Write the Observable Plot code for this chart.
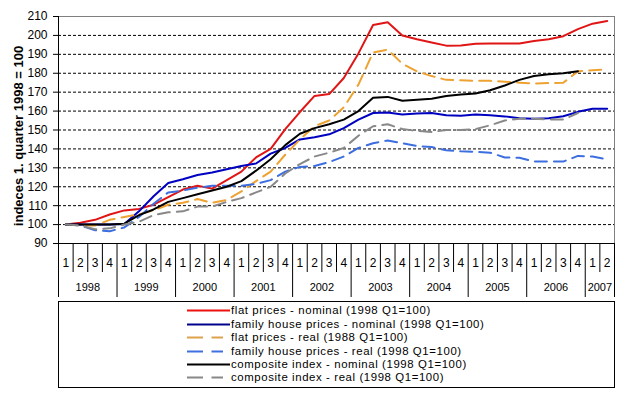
<!DOCTYPE html>
<html><head><meta charset="utf-8">
<script src="https://cdn.jsdelivr.net/npm/d3@7"></script>
<script src="https://cdn.jsdelivr.net/npm/@observablehq/plot@0.6"></script>
<style>
body{margin:0;background:#fff;}
#wrap{position:relative;width:620px;height:393px;font-family:"Liberation Sans",Arial,sans-serif;background:#fff;}
#legend{position:absolute;left:58px;top:301px;width:557px;height:87px;border:1px solid #000;box-sizing:border-box;padding:2.3px 0 0 128px;}
.row{height:13.4px;display:flex;align-items:center;font-size:11.4px;letter-spacing:0.6px;line-height:13px;white-space:nowrap;color:#000;}
.row svg{flex:none;margin-right:1px;}
</style></head><body><div id="wrap"><div id="chart"></div><div id="legend"></div></div>
<script>
const years = ["1998","1999","2000","2001","2002","2003","2004","2005","2006","2007"];
const quarterLabels = ["1","2","3","4","1","2","3","4","1","2","3","4","1","2","3","4","1","2","3","4",
  "1","2","3","4","1","2","3","4","1","2","3","4","1","2","3","4","1","2"];
const yTicks = [90,100,110,120,130,140,150,160,170,180,190,200,210];

const flatNominal = [100,101,102.5,105.3,107.5,108.3,110.5,114.5,118.5,120.5,119,123.5,128,135.5,140,150.5,
  159.5,168,169,177.5,190.5,205.5,207,200,198,196.3,194.6,194.7,195.6,195.7,195.7,195.7,197,198,199.6,203.3,206.2,207.6];
const houseNominal = [100,100,100,100,100.3,107,115,122,124,126.2,127.5,129.2,131,132.3,137.5,140.5,
  145,146.2,147.7,151,155.5,159,159.2,158.2,158.7,159,157.8,157.5,158.2,157.8,157.2,156.2,156,156.2,157.3,159.6,161.2,161.2];
const flatReal = [100,99.5,99.5,102.5,104,105.5,107.5,110.5,111.5,113.5,111.5,113,117.5,123,128,137,
  145,152,155,162,174,191,192.5,185,181,178.5,176.5,176.3,176,176,175.5,175,174.6,174.8,175,181,181.6,182];
const houseReal = [100,99.5,97,96.5,98.5,104,111,117,118,119.5,120.5,120.5,120.5,121.5,123.5,128,
  130.5,131,133,136,140.5,143,144.5,143,141.5,141,139.3,138.8,138.5,138,135.5,135.3,133.3,133.3,133.3,136.3,136,134.5];
const compositeNominal = [100,100,100,100,100.5,105,108,112,114,116,118,120,123,128.5,134.5,142,
  148,151,153,155.5,160,167,167.5,165.5,166,166.5,168,168.8,169.3,171,173.5,176.5,178.5,179.5,180,181];
const compositeReal = [100,99.5,97.5,98,100,101.5,105,106.5,107,109.5,109.5,112,114,117,120,127,
  132,136,138,140.5,147,152,153,150.5,149.5,149,150,150,150.5,152.5,155,156,156,155.5,155.5,159];

const seriesNames = [
  "flat prices - nominal (1998 Q1=100)",
  "family house prices - nominal (1998 Q1=100)",
  "flat prices - real (1988 Q1=100)",
  "family house prices - real (1998 Q1=100)",
  "composite index - nominal (1998 Q1=100)",
  "composite index - real (1998 Q1=100)"
];
const seriesValues = [flatNominal, houseNominal, flatReal, houseReal, compositeNominal, compositeReal];
const seriesColors = ["#e01515", "#0000c0", "#eea232", "#3d6ee0", "#000000", "#888888"];
const legendColors = ["#ee1111", "#00008c", "#dca24c", "#4070e0", "#000000", "#888888"];
const seriesDashed = [false, false, true, true, false, true];

const nQ = quarterLabels.length;
const series = seriesNames.map((name, k) => ({
  name, color: seriesColors[k], dashed: seriesDashed[k],
  rows: seriesValues[k].map((v, i) => ({i, v}))
}));

const yearStarts = years.map((y, j) => j * 4);
const yearBounds = [...yearStarts, nQ];
const quarterSeps = d3.range(1, nQ).filter(i => i % 4 !== 0);
const quarterCenters = d3.range(nQ).map(i => i + 0.5);
const yearCenters = years.map((y, j) => (yearStarts[j] + Math.min(yearStarts[j] + 4, nQ)) / 2);
const gridValues = yTicks.filter(v => v > yTicks[0] && v < yTicks[yTicks.length - 1]);

const plot = Plot.plot({
  width: 620, height: 300,
  marginLeft: 58, marginRight: 6, marginTop: 16, marginBottom: 57,
  style: {background: "#fff", color: "#000", fontFamily: "'Liberation Sans', Arial, sans-serif", fontSize: "12px", overflow: "visible"},
  x: {type: "linear", domain: [0, nQ]},
  y: {domain: [yTicks[0], yTicks[yTicks.length - 1]]},
  marks: [
    Plot.ruleY(gridValues, {stroke: "#000", strokeWidth: 1, strokeDasharray: "3,2"}),
    Plot.frame({stroke: "#808080"}),
    Plot.axisY({ticks: yTicks, tickSize: 5, tickPadding: 6, fontSize: 12, label: null, stroke: "#000"}),
    Plot.axisX({ticks: quarterSeps, tickSize: 29, tickFormat: () => "", label: null, stroke: "#000"}),
    Plot.axisX({ticks: yearBounds, tickSize: 54, tickFormat: () => "", label: null, stroke: "#000"}),
    Plot.axisX({ticks: quarterCenters, tickSize: 0, tickPadding: 15, fontSize: 12, label: null,
      tickFormat: d => quarterLabels[Math.floor(d)]}),
    Plot.axisX({ticks: yearCenters, tickSize: 0, tickPadding: 40, fontSize: 11, label: null,
      tickFormat: d => years[yearCenters.indexOf(d)]}),
    Plot.ruleX([0], {stroke: "#000"}),
    Plot.ruleY([yTicks[0]], {stroke: "#000"}),
    ...series.map(s => Plot.line(s.rows, {
      x: d => d.i + 0.5, y: "v", stroke: s.color, strokeWidth: 2,
      strokeDasharray: s.dashed ? "12,7" : null, curve: "linear"
    }))
  ]
});
document.getElementById("chart").appendChild(plot);

d3.select(plot).append("text")
  .attr("transform", "translate(18,136) rotate(-90)")
  .attr("text-anchor", "middle")
  .attr("dy", "0.35em")
  .attr("font-weight", "bold")
  .attr("font-size", 13)
  .attr("fill", "#000")
  .text("indeces 1. quarter 1998 = 100");

const legend = d3.select("#legend");
series.forEach((s, k) => {
  const row = legend.append("div").attr("class", "row");
  const sw = row.append("svg").attr("width", 43).attr("height", 13);
  sw.append("line").attr("x1", 0).attr("x2", s.dashed ? 36 : 43).attr("y1", 6.5).attr("y2", 6.5)
    .attr("stroke", legendColors[k]).attr("stroke-width", 2)
    .attr("stroke-dasharray", s.dashed ? "16,8.5" : null);
  row.append("span").text(s.name);
});
</script>
</body></html>
